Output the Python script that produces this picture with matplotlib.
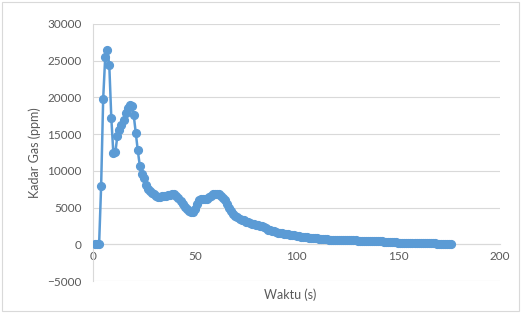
import matplotlib.pyplot as plt
from matplotlib.patches import Rectangle

plt.rcParams['font.family'] = ['Lato', 'DejaVu Sans']

# waktu (s) dan kadar gas (ppm)
waktu = list(range(1, 177))
kadar_gas = [
    0, 0, 0, 8000, 19800, 25500, 26500, 24400, 17200, 12400,
    12600, 14800, 15600, 16300, 16900, 17900, 18600, 19000, 18900, 17600,
    15200, 12800, 10700, 9600, 9000, 8100, 7500, 7300, 7000, 6800,
    6600, 6500, 6500, 6550, 6600, 6600, 6650, 6700, 6850, 6800,
    6600, 6250, 5900, 5500, 5100, 4800, 4500, 4400, 4450, 4800,
    5500, 6000, 6200, 6150, 6100, 6200, 6400, 6600, 6800, 6900,
    6850, 6800, 6600, 6300, 6000, 5500, 5000, 4500, 4100, 3900,
    3700, 3500, 3350, 3250, 3100, 3000, 2900, 2800, 2700, 2650,
    2600, 2550, 2450, 2300, 2150, 2000, 1900, 1800, 1750, 1650,
    1600, 1550, 1500, 1450, 1400, 1350, 1300, 1250, 1200, 1150,
    1100, 1050, 1000, 980, 950, 920, 880, 850, 820, 800,
    770, 740, 710, 690, 670, 650, 640, 630, 620, 610,
    600, 590, 580, 570, 560, 550, 540, 530, 520, 510,
    500, 490, 480, 460, 450, 440, 430, 420, 410, 400,
    390, 380, 370, 350, 340, 320, 300, 280, 260, 240,
    230, 220, 210, 200, 200, 190, 180, 170, 160, 150,
    140, 130, 130, 120, 120, 110, 110, 110, 100, 100,
    100, 100, 90, 90, 90, 90,
]
x_ticks = [0, 50, 100, 150, 200]
y_ticks = list(range(-5000, 30001, 5000))

fig = plt.figure(figsize=(5.21, 3.13), dpi=100)
fig.patches.append(Rectangle((0.004, 0.006), 0.992, 0.988, transform=fig.transFigure,
                             fill=False, edgecolor='#d9d9d9', linewidth=0.8))
ax = fig.add_axes([93 / 521, 1 - 281 / 313, (500 - 93) / 521, (281 - 24) / 313])

ax.plot(waktu, kadar_gas, color='#5b9bd5', linewidth=1.8, marker='o',
        markersize=5.6, zorder=3)

ax.set_xlim(0, 200)
ax.set_ylim(-5000, 30000)
ax.set_xticks(x_ticks)
ax.set_yticks(y_ticks)
ax.grid(axis='y', color='#d9d9d9', linewidth=0.8)
ax.set_axisbelow(True)

for s in ['top', 'right']:
    ax.spines[s].set_visible(False)
ax.spines['left'].set_color('#d9d9d9')
ax.spines['bottom'].set_position(('data', 0))
ax.spines['bottom'].set_color('#d9d9d9')
ax.tick_params(length=0, labelsize=8.5, labelcolor='#595959')
ax.tick_params(axis='y', pad=8)
ax.tick_params(axis='x', pad=5)

ax.set_ylabel('Kadar Gas (ppm)', fontsize=9, color='#595959', labelpad=5)
fig.text(290 / 521, 1 - 295 / 313, 'Waktu (s)', fontsize=9, color='#595959',
         ha='center', va='center')

fig.savefig('out.png', dpi=100)
